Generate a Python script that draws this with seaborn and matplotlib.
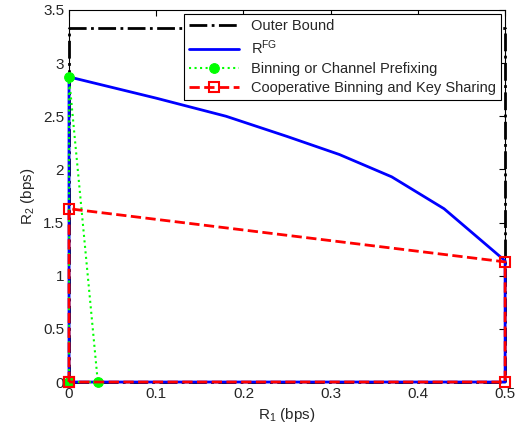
import pandas as pd
import numpy as np
import matplotlib.pyplot as plt
import seaborn as sns

# region boundaries (R1, R2) in bps
outerR1 = [0, 0, 0.5, 0.5, 0]
outerR2 = [0, 3.33, 3.33, 0, 0]

fgR1 = [0, 0.1, 0.18, 0.25, 0.31, 0.37, 0.43, 0.5, 0.5, 0, 0]
fgR2 = [2.87, 2.67, 2.50, 2.31, 2.14, 1.93, 1.63, 1.14, 0, 0, 2.87]

binR1 = [0, 0, 0.033, 0]
binR2 = [0, 2.87, 0, 0]

coopR1 = [0, 0, 0.5, 0.5, 0]
coopR2 = [0, 1.63, 1.13, 0, 0]

xticks = [0, 0.1, 0.2, 0.3, 0.4, 0.5]
xtickLabels = ['0', '0.1', '0.2', '0.3', '0.4', '0.5']
yticks = [0, 0.5, 1, 1.5, 2, 2.5, 3, 3.5]
ytickLabels = ['0', '0.5', '1', '1.5', '2', '2.5', '3', '3.5']

sns.set_style('white')
plt.rcParams['font.family'] = ['Liberation Sans', 'DejaVu Sans']
plt.rcParams['mathtext.fontset'] = 'custom'
plt.rcParams['mathtext.rm'] = 'Liberation Sans'
plt.rcParams['mathtext.it'] = 'Liberation Sans'

fig = plt.figure(figsize=(5.17, 4.32), dpi=100)
ax = fig.add_axes([0.1335, 0.1157, 0.8435, 0.8613])

sns.lineplot(x=outerR1, y=outerR2, sort=False, estimator=None, ax=ax,
             color='black', linestyle='-.', linewidth=2, label='Outer Bound')
sns.lineplot(x=fgR1, y=fgR2, sort=False, estimator=None, ax=ax,
             color='#0000ff', linestyle='-', linewidth=2, label='R$^{FG}$')
sns.lineplot(x=binR1, y=binR2, sort=False, estimator=None, ax=ax,
             color='#00ff00', linestyle=':', linewidth=1.5, marker='o',
             markersize=7, markeredgecolor='#00ff00',
             label='Binning or Channel Prefixing')
sns.lineplot(x=coopR1, y=coopR2, sort=False, estimator=None, ax=ax,
             color='#ff0000', linestyle='--', linewidth=2, marker='s',
             markersize=7, markerfacecolor='none', markeredgecolor='#ff0000',
             markeredgewidth=1.5, label='Cooperative Binning and Key Sharing')

# let boundary lines sit on top of the axes box, like MATLAB
for i, ln in enumerate(ax.lines):
    ln.set_clip_on(False)
    ln.set_zorder(3 + i)

ax.set_xlim(0, 0.5)
ax.set_ylim(0, 3.5)
ax.set_xticks(xticks)
ax.set_xticklabels(xtickLabels)
ax.set_yticks(yticks)
ax.set_yticklabels(ytickLabels)
ax.tick_params(direction='in', length=4, labelsize=11, top=True, right=True,
               color='black')
for s in ax.spines.values():
    s.set_color('black')
    s.set_linewidth(0.8)
ax.set_xlabel('R$_1$ (bps)', fontsize=11)
ax.set_ylabel('R$_2$ (bps)', fontsize=11)

leg = ax.legend(loc='upper right', fontsize=10.5, frameon=True, fancybox=False,
                edgecolor='black', framealpha=1, handlelength=3.4,
                borderaxespad=0.3, labelspacing=0.35, borderpad=0.35)
leg.get_frame().set_linewidth(0.8)
leg.set_zorder(20)

plt.savefig('out.png', dpi=100)
